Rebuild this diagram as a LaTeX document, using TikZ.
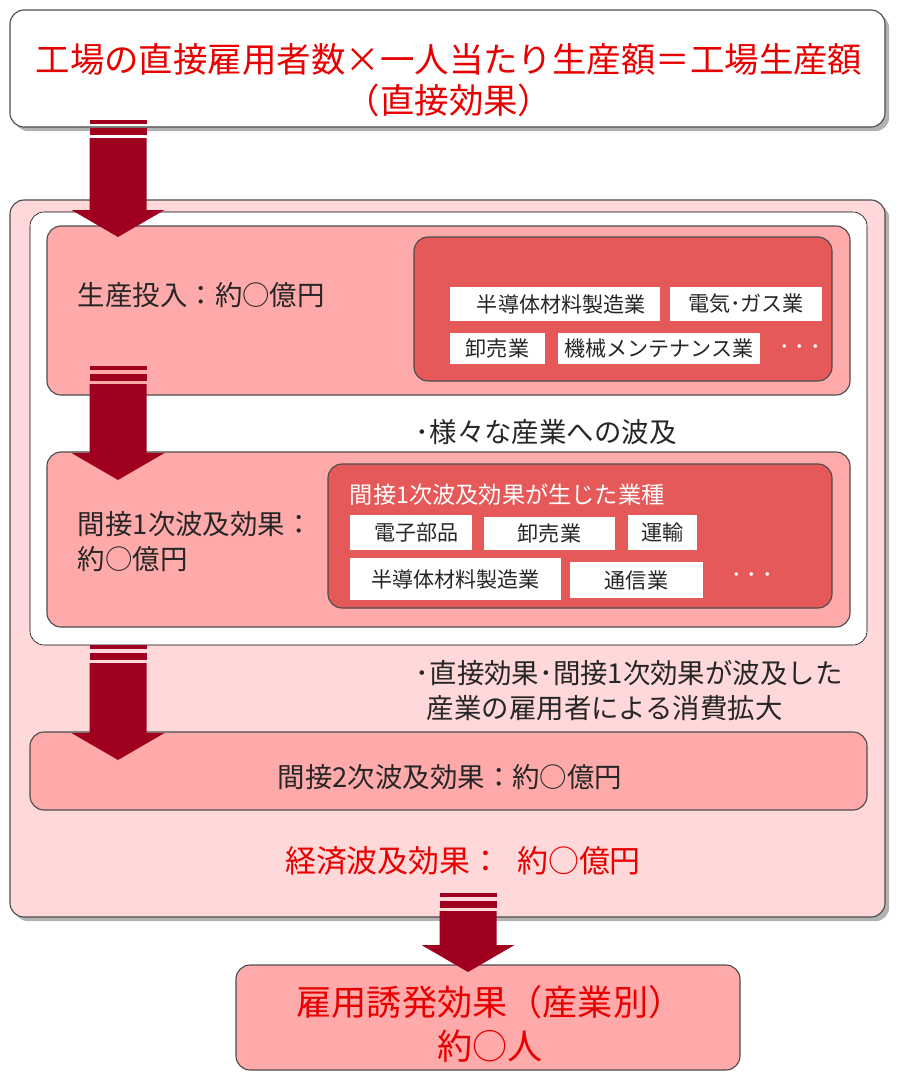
\documentclass[tikz,border=0pt]{standalone}
\usepackage{fontspec}
\setmainfont{Noto Sans CJK JP}
\usetikzlibrary{positioning,fit,calc,shadows}

\definecolor{arrowred}{RGB}{160,0,32}
\definecolor{paleback}{RGB}{255,217,217}
\definecolor{pinkbox}{RGB}{255,170,170}
\definecolor{deepbox}{RGB}{229,89,89}
\definecolor{titlered}{RGB}{232,0,0}

\newcommand{\hdfont}{\fontsize{24.5}{29}\selectfont}
\newcommand{\lblfont}{\fontsize{19.5}{25}\selectfont}
\newcommand{\tagfont}{\fontsize{15}{18}\selectfont}
\newcommand{\captfont}{\fontsize{16.5}{19}\selectfont}
\newcommand{\sumfont}{\fontsize{22}{26}\selectfont}
\newcommand{\jobfont}{\fontsize{25}{31}\selectfont}

% block arrow: #1 = top of the stripes, #2 = tip
\newcommand{\stripearrow}[2]{%
  \fill[arrowred] ($(#1)+(-28.5,0)$) rectangle ($(#1)+(28.5,4)$);
  \fill[arrowred] ($(#1)+(-28.5,8)$) rectangle ($(#1)+(28.5,15)$);
  \fill[arrowred] ($(#1)+(-28.5,18)$) -- ($(#2)+(-28.5,-27)$) -- ($(#2)+(-46.5,-27)$)
    -- (#2) -- ($(#2)+(46.5,-27)$) -- ($(#2)+(28.5,-27)$) -- ($(#1)+(28.5,18)$) -- cycle;
}

\tikzset{
  panel/.style={draw=black!70, rounded corners=10pt, inner sep=0pt, line width=0.8pt},
  shadowed/.style={general shadow={fill=black!30, shadow xshift=3pt, shadow yshift=-3pt}},
  tagbox/.style={fill=white, inner sep=0pt, font=\tagfont, text=black!85},
  dotsmark/.style={text=white, font=\tagfont}
}

\begin{document}
\begin{tikzpicture}[x=0.025cm,y=-0.025cm]
\useasboundingbox (0,0) rectangle (900,1078);

% top box
\node[panel, shadowed, fill=white, fit={(10,10) (885,127)}] (topbox) {};
\node[font=\hdfont, text=titlered, align=center] (toptext) at (449,80)
  {工場の直接雇用者数×一人当たり生産額＝工場生産額\\（直接効果）};

% outer frame
\node[panel, shadowed, fill=paleback, fit={(10,200) (885,917)}] (outer) {};
\node[draw=black, fill=white, rounded corners=10pt, inner sep=0pt, fit={(30,212) (867,645)}] (inner) {};

% production input
\node[panel, fill=pinkbox, fit={(47,226) (850,395)}] (box1) {};
\node[panel, fill=deepbox, fit={(414,237) (832,381)}] (deep1) {};
\node[anchor=west, font=\lblfont, text=black!85] (inputlbl) at (73,295) {生産投入：約○億円};
\node[tagbox, minimum width=5.25cm, minimum height=0.85cm] (t11) at (555,304) {\hspace*{0.6em}半導体材料製造業};
\node[tagbox, minimum width=3.8cm, minimum height=0.85cm] (t12) at (746,304) {電気･ガス業};
\node[tagbox, minimum width=2.375cm, minimum height=0.775cm] (t13) at (497.5,348.5) {卸売業};
\node[tagbox, minimum width=5.05cm, minimum height=0.775cm] (t14) at (659,348.5) {機械メンテナンス業};
\node[dotsmark] (dots1) at (800,350) {･ ･ ･};

\node[anchor=west, font=\lblfont, text=black!85] (spread) at (411,432) {･様々な産業への波及};

% indirect 1st
\node[panel, fill=pinkbox, fit={(47,452) (850,627)}] (box2) {};
\node[panel, fill=deepbox, fit={(328,464) (832,608)}] (deep2) {};
\node[anchor=west, font=\captfont, text=white] (deeptitle) at (345,495) {間接1次波及効果が生じた業種};
\node[anchor=west, font=\lblfont, text=black!85, align=left] (firstlbl) at (73,542)
  {間接1次波及効果：\\約○億円};
\node[tagbox, minimum width=3.05cm, minimum height=0.875cm] (t21) at (411,532.5) {\hspace*{0.5em}電子部品};
\node[tagbox, minimum width=3.275cm, minimum height=0.825cm] (t22) at (549.5,533.5) {卸売業};
\node[tagbox, minimum width=1.725cm, minimum height=0.875cm] (t23) at (662.5,532.5) {運輸};
\node[tagbox, minimum width=5.275cm, minimum height=1.05cm] (t24) at (455.5,579) {半導体材料製造業};
\node[tagbox, minimum width=3.325cm, minimum height=0.9cm] (t25) at (636.5,580) {通信業};
\node[dotsmark] (dots2) at (752,578) {･ ･ ･};

\node[anchor=north west, font=\lblfont, text=black!85, align=left] (consume) at (411,655)
  {･直接効果･間接1次効果が波及した\\\hspace*{0.4em}産業の雇用者による消費拡大};

% indirect 2nd
\node[panel, fill=pinkbox, fit={(30,732) (867,810)}] (box3) {};
\node[font=\lblfont, text=black!85] (secondlbl) at (450,777) {間接2次波及効果：約○億円};

\node[font=\sumfont, text=titlered] (total) at (463,861) {経済波及効果：\hspace{0.5em}約○億円};

% employment
\node[panel, fill=pinkbox, fit={(236,965) (740,1070)}] (jobs) {};
\node[font=\jobfont, text=titlered, align=center] (jobtext) at (490,1024)
  {雇用誘発効果（産業別）\\約○人};

% arrows
\coordinate (a1top) at (118,120);
\coordinate (a1tip) at (118,237);
\coordinate (a2top) at (118,366);
\coordinate (a2tip) at (118,480);
\coordinate (a3top) at (118,645);
\coordinate (a3tip) at (118,760);
\coordinate (a4top) at (468,893);
\coordinate (a4tip) at (468,972);
\stripearrow{a1top}{a1tip}
\stripearrow{a2top}{a2tip}
\stripearrow{a3top}{a3tip}
\stripearrow{a4top}{a4tip}
\end{tikzpicture}
\end{document}
